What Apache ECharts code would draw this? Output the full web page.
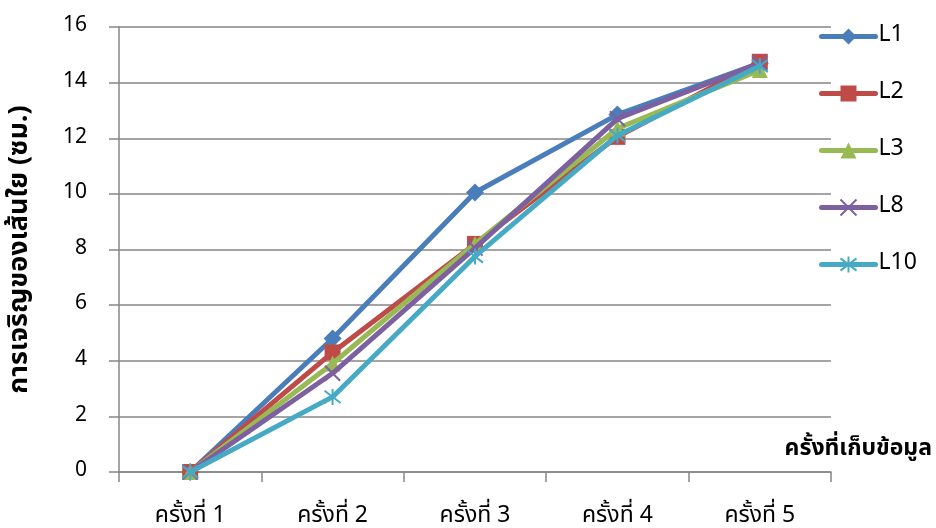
<!DOCTYPE html>
<html>
<head>
<meta charset="utf-8">
<script src="https://cdn.jsdelivr.net/npm/echarts@6/dist/echarts.min.js"></script>
<style>
  html, body { margin: 0; padding: 0; background: #fff; }
  #chart { width: 936px; height: 528px; }
</style>
</head>
<body>
<div id="chart"></div>
<script>
// Mycelium growth over five sampling rounds
const categories = ['ครั้งที่ 1', 'ครั้งที่ 2', 'ครั้งที่ 3', 'ครั้งที่ 4', 'ครั้งที่ 5'];
const seriesNames = ['L1', 'L2', 'L3', 'L8', 'L10'];
const L1 = [0, 4.8, 10.05, 12.85, 14.7];
const L2 = [0, 4.3, 8.2, 12.05, 14.75];
const L3 = [0, 3.9, 8.2, 12.35, 14.45];
const L8 = [0, 3.55, 8.05, 12.7, 14.7];
const L10 = [0, 2.7, 7.75, 12.1, 14.6];
const yTicks = [0, 2, 4, 6, 8, 10, 12, 14, 16];

const FONT = "'Noto Sans Thai', 'Noto Sans', 'DejaVu Sans', sans-serif";
const colors = ['#4A7EBB', '#BE4B48', '#98B954', '#7D60A0', '#46AAC5'];
const xPath = 'path://M0,0L10,10M10,0L0,10';
const starPath = 'path://M0,0L10,10M10,0L0,10M5,-1.5L5,11.5';
const symbols = ['diamond', 'rect', 'triangle', xPath, starPath];
const sizes = [18, 16, 16, 15, 16];
const values = [L1, L2, L3, L8, L10];

const chart = echarts.init(document.getElementById('chart'), null, { renderer: 'canvas' });

chart.setOption({
  animation: false,
  grid: { left: 119, right: 105, top: 27, bottom: 56, containLabel: false, outerBoundsMode: 'none' },
  legend: {
    orient: 'vertical',
    left: 814,
    top: 20,
    itemGap: 34,
    itemWidth: 54,
    itemHeight: 20,
    lineStyle: { width: 5, cap: 'round' },
    textStyle: { fontFamily: FONT, fontSize: 23, color: '#000', padding: [0, 0, 0, -2] },
    data: seriesNames
  },
  xAxis: {
    type: 'category',
    data: categories,
    boundaryGap: true,
    axisLine: { lineStyle: { color: '#868686', width: 1.5 } },
    axisTick: { show: true, length: 10, lineStyle: { color: '#868686', width: 1.5 } },
    axisLabel: { fontFamily: FONT, fontSize: 23, color: '#000', margin: 34 },
    splitLine: { show: false }
  },
  yAxis: {
    type: 'value',
    min: 0,
    max: 16,
    interval: 2,
    name: 'การเจริญของเส้นใย (ซม.)',
    nameLocation: 'middle',
    nameGap: 84,
    nameTextStyle: { fontFamily: FONT, fontSize: 27, fontWeight: 'bold', color: '#000' },
    axisLine: { show: true, lineStyle: { color: '#868686', width: 1.5 } },
    axisTick: { show: true, length: 10, lineStyle: { color: '#868686', width: 1.5 } },
    axisLabel: {
      fontFamily: FONT, fontSize: 21, color: '#000', margin: 32,
      formatter: v => (yTicks.indexOf(v) >= 0 ? String(v) : '')
    },
    splitLine: { show: true, lineStyle: { color: '#868686', width: 1.5 } }
  },
  graphic: [{
    type: 'text',
    right: 4,
    top: 439,
    style: {
      text: 'ครั้งที่เก็บข้อมูล',
      font: "bold 23px " + FONT,
      fill: '#000'
    }
  }],
  series: seriesNames.map((name, i) => ({
    name: name,
    type: 'line',
    data: values[i],
    symbol: symbols[i],
    symbolSize: sizes[i],
    color: colors[i],
    lineStyle: { width: 5, color: colors[i], cap: 'round' },
    itemStyle: i >= 3
      ? { color: colors[i], borderColor: colors[i], borderWidth: 2 }
      : { color: colors[i] },
    emphasis: { disabled: true },
    z: 2 + i
  }))
});
</script>
</body>
</html>
